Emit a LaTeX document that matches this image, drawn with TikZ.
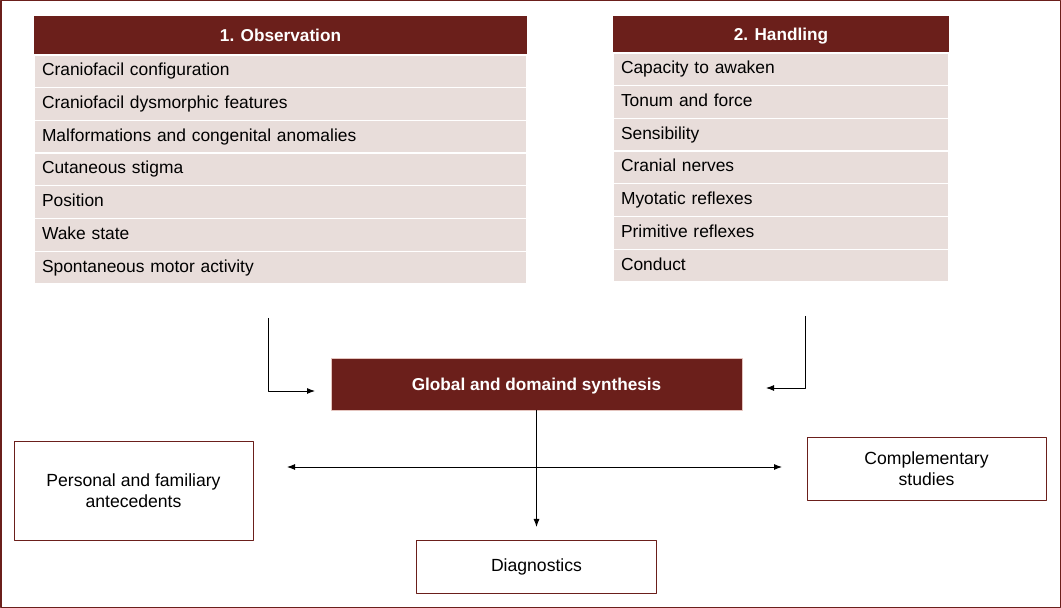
\documentclass[tikz,border=0pt]{standalone}
\usepackage{fontspec}
\setmainfont{Liberation Sans}
\usetikzlibrary{positioning,arrows.meta}
\definecolor{darkmaroon}{RGB}{107,31,27}
\definecolor{rowpink}{RGB}{232,221,218}
\definecolor{synthedge}{RGB}{228,196,190}
\tikzset{
  headcell/.style={fill=darkmaroon,text=white,font=\bfseries\fontsize{17.2bp}{20bp}\selectfont,inner sep=0pt,outer sep=0pt,text height=12.2bp,text depth=0bp},
  rowcell/.style={fill=rowpink,draw=white,line width=1.2bp,font=\fontsize{17.4bp}{20bp}\selectfont,minimum height=32.7bp,inner xsep=8bp,inner ysep=0pt,outer sep=0pt,text height=12.5bp,text depth=3.5bp,align=left},
  plainbox/.style={draw=darkmaroon,line width=0.8bp,align=center,font=\fontsize{17.6bp}{21bp}\selectfont,inner sep=0pt},
}
\begin{document}
\begin{tikzpicture}[>={Latex[length=8bp,width=6bp]},line join=bevel,line width=0.9bp]
\useasboundingbox (0,0) rectangle (1061bp,608bp);
\draw [darkmaroon,line width=1.5bp] (0.75bp,0.75bp) rectangle (1060.25bp,607.25bp);
%%
\node (obs_head) at (280.5bp,572.5bp) [headcell,minimum width=493bp,minimum height=39bp] {1. Observation};
\foreach \txt [count=\i, remember=\i as \j (initially head)] in {Craniofacil configuration,Craniofacil dysmorphic features,Malformations and congenital anomalies,Cutaneous stigma,Position,Wake state,Spontaneous motor activity}
  \node (obs_\i) [rowcell,text width=477bp,below=0pt of obs_\j] {\txt};
\node (hand_head) at (781bp,573.5bp) [headcell,minimum width=336bp,minimum height=37bp] {2. Handling};
\foreach \txt [count=\i, remember=\i as \j (initially head)] in {Capacity to awaken,Tonum and force,Sensibility,Cranial nerves,Myotatic reflexes,Primitive reflexes,Conduct}
  \node (hand_\i) [rowcell,text width=320bp,below=0pt of hand_\j] {\txt};
%
\node (synth) at (536.5bp,224bp) [headcell,draw=synthedge,line width=0.8bp,minimum width=411bp,minimum height=52bp] {Global and domaind synthesis};
\node (pers) at (133.5bp,117.5bp) [plainbox,minimum width=239bp,minimum height=99bp] {Personal and familiary\\antecedents};
\node (compl) at (926.5bp,139.5bp) [plainbox,minimum width=239bp,minimum height=63bp] {Complementary\\studies};
\node (diag) at (536.5bp,41.5bp) [plainbox,minimum width=240bp,minimum height=53bp] {Diagnostics};
%
\coordinate (obs_out) at (268bp,290bp);
\coordinate (synth_in_l) at (315bp,217bp);
\coordinate (hand_out) at (805bp,292bp);
\coordinate (synth_in_r) at (766bp,220bp);
\coordinate (diag_in) at (536.5bp,81bp);
\coordinate (pers_in) at (287bp,141bp);
\coordinate (compl_in) at (782bp,141bp);
\draw [black,->] (obs_out) |- (synth_in_l);
\draw [black,->] (hand_out) |- (synth_in_r);
\draw [black,->] (synth.south) -- (diag_in);
\draw [black,<->] (pers_in) -- (compl_in);
%
\end{tikzpicture}
\end{document}
